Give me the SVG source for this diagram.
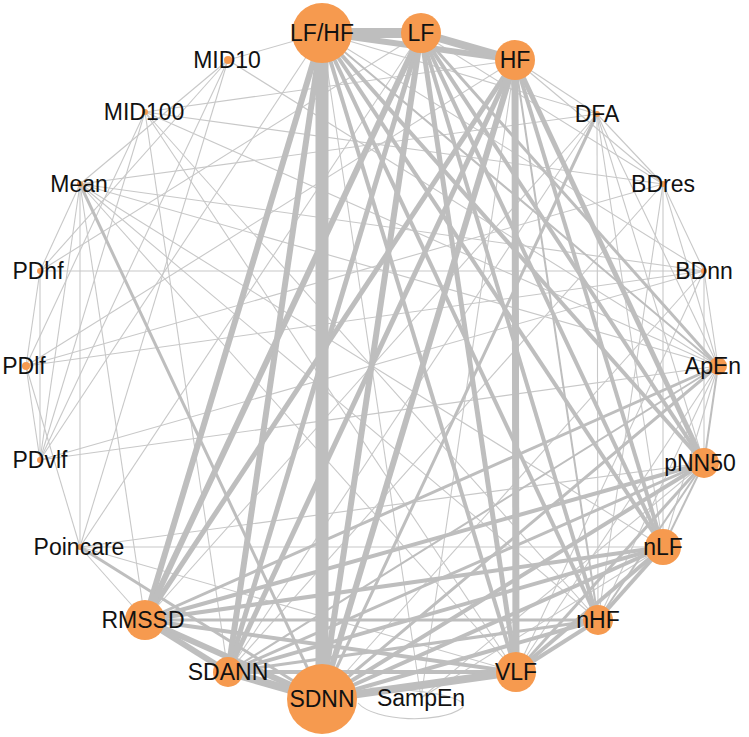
<svg xmlns="http://www.w3.org/2000/svg" width="749" height="737" viewBox="0 0 749 737">
<style>
.e line{stroke:#bebebe;stroke-linecap:butt;fill:none}
.w13{stroke-width:13}.w10{stroke-width:10}.w8{stroke-width:8}.w7{stroke-width:7}.w6{stroke-width:6}.w5{stroke-width:5}.w4{stroke-width:4}.w3{stroke-width:3}.w2{stroke-width:2}
.t line,.t path{stroke:#c8c8c8;stroke-width:1.1;fill:none}
circle{fill:#f69a4f}
text{font-family:"Liberation Sans",Arial,sans-serif;font-size:23px;fill:#111;text-anchor:middle}
</style>
<rect width="749" height="737" fill="#fff"/>
<g id="connectors">
<g class="t">
<line x1="80" y1="184" x2="80" y2="547"/>
<line x1="80" y1="184" x2="597" y2="114"/>
<line x1="80" y1="184" x2="718" y2="366"/>
<line x1="80" y1="184" x2="228" y2="60"/>
<line x1="80" y1="184" x2="40" y2="271"/>
<line x1="80" y1="184" x2="40" y2="460"/>
<line x1="80" y1="184" x2="663" y2="547"/>
<line x1="80" y1="184" x2="516" y2="672"/>
<line x1="80" y1="184" x2="145" y2="620"/>
<line x1="80" y1="184" x2="598" y2="620"/>
<line x1="80" y1="184" x2="704" y2="271"/>
<line x1="228" y1="60" x2="322" y2="33"/>
<line x1="228" y1="60" x2="80" y2="547"/>
<line x1="228" y1="60" x2="40" y2="460"/>
<line x1="228" y1="60" x2="40" y2="271"/>
<line x1="228" y1="60" x2="718" y2="366"/>
<line x1="145" y1="112" x2="663" y2="184"/>
<line x1="145" y1="112" x2="26" y2="366"/>
<line x1="145" y1="112" x2="40" y2="460"/>
<line x1="145" y1="112" x2="516" y2="672"/>
<line x1="145" y1="112" x2="598" y2="620"/>
<line x1="145" y1="112" x2="228" y2="672"/>
<line x1="145" y1="112" x2="515" y2="60"/>
<line x1="145" y1="112" x2="718" y2="366"/>
<line x1="40" y1="271" x2="704" y2="271"/>
<line x1="40" y1="271" x2="40" y2="460"/>
<line x1="40" y1="271" x2="26" y2="366"/>
<line x1="40" y1="271" x2="421" y2="33"/>
<line x1="26" y1="366" x2="40" y2="460"/>
<line x1="26" y1="366" x2="80" y2="547"/>
<line x1="26" y1="366" x2="663" y2="184"/>
<line x1="26" y1="366" x2="704" y2="271"/>
<line x1="26" y1="366" x2="515" y2="60"/>
<line x1="40" y1="460" x2="704" y2="271"/>
<line x1="40" y1="460" x2="718" y2="366"/>
<line x1="40" y1="460" x2="322" y2="33"/>
<line x1="80" y1="547" x2="663" y2="547"/>
<line x1="80" y1="547" x2="421" y2="33"/>
<line x1="80" y1="547" x2="145" y2="620"/>
<line x1="80" y1="547" x2="516" y2="672"/>
<line x1="80" y1="547" x2="704" y2="463"/>
<line x1="597" y1="114" x2="598" y2="620"/>
<line x1="597" y1="114" x2="718" y2="366"/>
<line x1="597" y1="114" x2="704" y2="463"/>
<line x1="597" y1="114" x2="322" y2="33"/>
<line x1="597" y1="114" x2="515" y2="60"/>
<line x1="597" y1="114" x2="145" y2="620"/>
<line x1="597" y1="114" x2="228" y2="672"/>
<line x1="597" y1="114" x2="663" y2="184"/>
<line x1="597" y1="114" x2="663" y2="547"/>
<line x1="663" y1="184" x2="663" y2="547"/>
<line x1="663" y1="184" x2="704" y2="271"/>
<line x1="663" y1="184" x2="515" y2="60"/>
<line x1="663" y1="184" x2="718" y2="366"/>
<line x1="663" y1="184" x2="228" y2="672"/>
<line x1="663" y1="184" x2="421" y2="33"/>
<line x1="663" y1="184" x2="598" y2="620"/>
<line x1="704" y1="271" x2="718" y2="366"/>
<line x1="704" y1="271" x2="704" y2="463"/>
<line x1="704" y1="271" x2="322" y2="699"/>
<line x1="704" y1="271" x2="322" y2="33"/>
<line x1="704" y1="271" x2="516" y2="672"/>
<line x1="718" y1="366" x2="663" y2="547"/>
<line x1="718" y1="366" x2="598" y2="620"/>
<line x1="718" y1="366" x2="516" y2="672"/>
<line x1="421" y1="698" x2="515" y2="60"/>
<line x1="421" y1="698" x2="663" y2="547"/>
<line x1="421" y1="698" x2="322" y2="33"/>
<line x1="421" y1="698" x2="704" y2="463"/>
<path d="M358,703 C375,722 440,724 462,708 C470,700 440,690 370,688"/>
</g>
<g class="e">
<line class="w3" x1="145" y1="620" x2="598" y2="620"/>
<line class="w3" x1="228" y1="672" x2="704" y2="463"/>
<line class="w3" x1="228" y1="672" x2="598" y2="620"/>
<line class="w3" x1="516" y1="672" x2="704" y2="463"/>
<line class="w3" x1="80" y1="184" x2="322" y2="699"/>
<line class="w3" x1="597" y1="114" x2="322" y2="699"/>
<line class="w3" x1="718" y1="366" x2="145" y2="620"/>
<line class="w3" x1="718" y1="366" x2="322" y2="699"/>
<line class="w3" x1="421" y1="33" x2="718" y2="366"/>
<line class="w3" x1="80" y1="547" x2="322" y2="699"/>
<line class="w2" x1="515" y1="60" x2="598" y2="620"/>
<line class="w2" x1="663" y1="547" x2="704" y2="463"/>
<line class="w2" x1="598" y1="620" x2="704" y2="463"/>
<line class="w2" x1="718" y1="366" x2="704" y2="463"/>
<line class="w2" x1="322" y1="33" x2="718" y2="366"/>
<line class="w2" x1="718" y1="366" x2="228" y2="672"/>
<line class="w4" x1="322" y1="33" x2="516" y2="672"/>
<line class="w4" x1="322" y1="33" x2="598" y2="620"/>
<line class="w4" x1="322" y1="33" x2="663" y2="547"/>
<line class="w4" x1="322" y1="33" x2="704" y2="463"/>
<line class="w4" x1="421" y1="33" x2="598" y2="620"/>
<line class="w4" x1="421" y1="33" x2="663" y2="547"/>
<line class="w4" x1="421" y1="33" x2="704" y2="463"/>
<line class="w4" x1="515" y1="60" x2="663" y2="547"/>
<line class="w4" x1="322" y1="699" x2="598" y2="620"/>
<line class="w4" x1="322" y1="699" x2="663" y2="547"/>
<line class="w4" x1="322" y1="699" x2="704" y2="463"/>
<line class="w4" x1="228" y1="672" x2="516" y2="672"/>
<line class="w4" x1="228" y1="672" x2="663" y2="547"/>
<line class="w4" x1="145" y1="620" x2="516" y2="672"/>
<line class="w4" x1="145" y1="620" x2="663" y2="547"/>
<line class="w4" x1="145" y1="620" x2="704" y2="463"/>
<line class="w4" x1="516" y1="672" x2="598" y2="620"/>
<line class="w4" x1="516" y1="672" x2="663" y2="547"/>
<line class="w4" x1="598" y1="620" x2="663" y2="547"/>
<line class="w5" x1="421" y1="33" x2="228" y2="672"/>
<line class="w5" x1="515" y1="60" x2="145" y2="620"/>
<line class="w5" x1="515" y1="60" x2="228" y2="672"/>
<line class="w5" x1="421" y1="33" x2="516" y2="672"/>
<line class="w5" x1="515" y1="60" x2="704" y2="463"/>
<line class="w6" x1="322" y1="33" x2="515" y2="60"/>
<line class="w6" x1="322" y1="33" x2="145" y2="620"/>
<line class="w6" x1="421" y1="33" x2="145" y2="620"/>
<line class="w6" x1="421" y1="33" x2="322" y2="699"/>
<line class="w6" x1="515" y1="60" x2="322" y2="699"/>
<line class="w6" x1="322" y1="699" x2="145" y2="620"/>
<line class="w6" x1="228" y1="672" x2="145" y2="620"/>
<line class="w6" x1="322" y1="33" x2="228" y2="672"/>
<line class="w7" x1="515" y1="60" x2="516" y2="672"/>
<line class="w8" x1="421" y1="33" x2="515" y2="60"/>
<line class="w8" x1="322" y1="699" x2="516" y2="672"/>
<line class="w8" x1="322" y1="699" x2="228" y2="672"/>
<line class="w10" x1="322" y1="33" x2="421" y2="33"/>
<line class="w13" x1="322" y1="33" x2="322" y2="699"/>
</g>
</g>
<g id="node-LFHF"><circle cx="322" cy="33" r="30"/><text x="322" y="41">LF/HF</text></g>
<g id="node-LF"><circle cx="421" cy="33" r="20"/><text x="421" y="41">LF</text></g>
<g id="node-HF"><circle cx="515" cy="60" r="20"/><text x="515" y="68">HF</text></g>
<g id="node-DFA"><circle cx="597" cy="114" r="3"/><text x="597" y="122">DFA</text></g>
<g id="node-BDres"><circle cx="663" cy="184" r="3"/><text x="663" y="192">BDres</text></g>
<g id="node-BDnn"><circle cx="704" cy="271" r="3"/><text x="704" y="279">BDnn</text></g>
<g id="node-ApEn"><circle cx="718" cy="366" r="9"/><text x="713" y="374">ApEn</text></g>
<g id="node-pNN50"><circle cx="704" cy="463" r="15"/><text x="700" y="471">pNN50</text></g>
<g id="node-nLF"><circle cx="663" cy="547" r="18"/><text x="663" y="555">nLF</text></g>
<g id="node-nHF"><circle cx="598" cy="620" r="15"/><text x="598" y="628">nHF</text></g>
<g id="node-VLF"><circle cx="516" cy="672" r="20"/><text x="516" y="680">VLF</text></g>
<g id="node-SampEn"><text x="421" y="706">SampEn</text></g>
<g id="node-SDNN"><circle cx="322" cy="699" r="35"/><text x="322" y="707">SDNN</text></g>
<g id="node-SDANN"><circle cx="228" cy="672" r="15"/><text x="228" y="680">SDANN</text></g>
<g id="node-RMSSD"><circle cx="145" cy="620" r="20"/><text x="143" y="628">RMSSD</text></g>
<g id="node-Poincare"><circle cx="80" cy="547" r="3"/><text x="79" y="555">Poincare</text></g>
<g id="node-PDvlf"><circle cx="40" cy="460" r="3"/><text x="40" y="468">PDvlf</text></g>
<g id="node-PDlf"><circle cx="26" cy="366" r="4"/><text x="24" y="374">PDlf</text></g>
<g id="node-PDhf"><circle cx="40" cy="271" r="3"/><text x="38" y="279">PDhf</text></g>
<g id="node-Mean"><circle cx="80" cy="184" r="3"/><text x="79" y="192">Mean</text></g>
<g id="node-MID100"><circle cx="145" cy="112" r="3"/><text x="144" y="120">MID100</text></g>
<g id="node-MID10"><circle cx="228" cy="60" r="4"/><text x="227" y="68">MID10</text></g>
</svg>
